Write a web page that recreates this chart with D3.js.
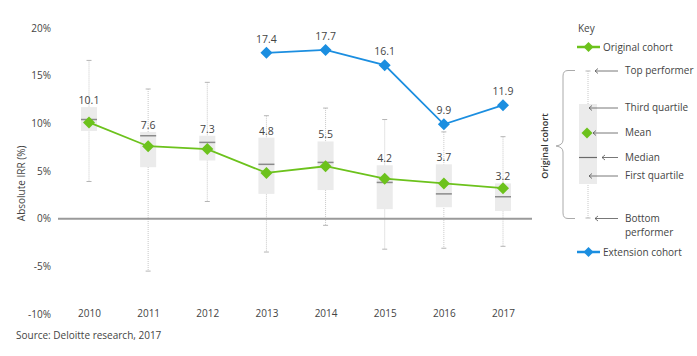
<!DOCTYPE html>
<html><head><meta charset="utf-8">
<script src="https://cdn.jsdelivr.net/npm/d3@7"></script>
<style>body{margin:0;background:#fff;}svg{display:block;font-family:"Open Sans",sans-serif;}</style>
</head><body><svg id="c" width="697" height="356"></svg>
<script>
const years = ["2010","2011","2012","2013","2014","2015","2016","2017"];
const topPerf = [16.6, 13.6, 14.3, 10.8, 11.6, 10.4, 9.1, 8.6];
const q3 = [11.7, 9.1, 8.7, 8.5, 8.1, 5.6, 5.7, 3.7];
const median = [10.4, 8.7, 8.0, 5.7, 5.9, 3.8, 2.6, 2.3];
const q1 = [9.2, 5.4, 6.1, 2.6, 3.0, 1.0, 1.2, 0.8];
const bottomPerf = [3.9, -5.5, 1.8, -3.5, -0.7, -3.2, -3.1, -2.9];
const originalMean = [10.1, 7.6, 7.3, 4.8, 5.5, 4.2, 3.7, 3.2];
const extYears = ["2013","2014","2015","2016","2017"];
const extensionMean = [17.4, 17.7, 16.1, 9.9, 11.9];
const yTicks = [20, 15, 10, 5, 0, -5, -10];

const GREEN = "#6cc21c", BLUE = "#1b8ee0", BOX = "#ebebeb", TXT = "#444";
const svg = d3.select("#c");
const x = d3.scalePoint().domain(years).range([89, 503]);
const y = d3.scaleLinear().domain([-10, 20]).range([314, 28]);

// y axis labels
const yAxis = d3.axisLeft(y).tickValues(yTicks).tickFormat(d => d + "%").tickSize(0).tickPadding(0);
const ya = svg.append("g").attr("transform", "translate(51,0)").call(yAxis);
ya.select(".domain").remove();
ya.selectAll("text").attr("font-size", 10).attr("fill", TXT).attr("font-family", "Open Sans");

// x axis labels
const xAxis = d3.axisBottom(x).tickSize(0).tickPadding(0);
const xa = svg.append("g").attr("transform", `translate(0,${y(-10) - 4})`).call(xAxis);
xa.select(".domain").remove();
xa.selectAll("text").attr("font-size", 10).attr("fill", TXT).attr("font-family", "Open Sans");

svg.append("text").attr("transform", `translate(25,${y(3.7)}) rotate(-90)`)
  .attr("text-anchor", "middle").attr("font-size", 10).attr("fill", TXT).text("Absolute IRR (%)");

// boxes
const bw = 16;
const g = svg.append("g");
years.forEach((yr, i) => {
  const cx = x(yr);
  g.append("line").attr("x1", cx).attr("x2", cx).attr("y1", y(topPerf[i])).attr("y2", y(bottomPerf[i]))
    .attr("stroke", "#c8c8c8").attr("stroke-width", 1).attr("stroke-dasharray", "1,1");
  [topPerf[i], bottomPerf[i]].forEach(v => g.append("line").attr("x1", cx - 2.5).attr("x2", cx + 2.5)
    .attr("y1", y(v)).attr("y2", y(v)).attr("stroke", "#b5b5b5").attr("stroke-width", 1));
  g.append("rect").attr("x", cx - bw / 2).attr("width", bw).attr("y", y(q3[i])).attr("height", y(q1[i]) - y(q3[i]))
    .attr("fill", BOX);
  g.append("line").attr("x1", cx - bw / 2).attr("x2", cx + bw / 2).attr("y1", y(median[i])).attr("y2", y(median[i]))
    .attr("stroke", "#8a8a8a").attr("stroke-width", 1.5);
  g.append("text").attr("x", cx).attr("y", y(q3[i]) - 3).attr("text-anchor", "middle")
    .attr("font-size", 10.5).attr("fill", TXT).text(originalMean[i].toFixed(1));
});

// zero line
svg.append("line").attr("x1", 58).attr("x2", 532).attr("y1", y(0)).attr("y2", y(0))
  .attr("stroke", "#9a9a9a").attr("stroke-width", 2);

const diamond = d3.symbol().type(d3.symbolSquare).size(72);
function series(xs, vals, color, labels) {
  const pts = xs.map((k, i) => [x(k), y(vals[i])]);
  svg.append("path").attr("d", d3.line()(pts)).attr("fill", "none").attr("stroke", color).attr("stroke-width", 1.8);
  pts.forEach((p, i) => {
    svg.append("path").attr("d", diamond).attr("transform", `translate(${p[0]},${p[1]}) rotate(45)`).attr("fill", color);
    if (labels) svg.append("text").attr("x", p[0]).attr("y", p[1] - 10).attr("text-anchor", "middle")
      .attr("font-size", 10.5).attr("fill", TXT).text(vals[i].toFixed(1));
  });
}
series(years, originalMean, GREEN, false);
series(extYears, extensionMean, BLUE, true);

// source
svg.append("text").attr("x", 16).attr("y", 339).attr("font-size", 10).attr("fill", TXT).text("Source: Deloitte research, 2017");

// key
const k = svg.append("g").attr("font-size", 10).attr("fill", TXT);
k.append("text").attr("x", 578).attr("y", 32).attr("fill", TXT).text("Key");
function legItem(yy, color, label) {
  k.append("line").attr("x1", 577).attr("x2", 600).attr("y1", yy).attr("y2", yy).attr("stroke", color).attr("stroke-width", 2.5);
  k.append("path").attr("d", d3.symbol().type(d3.symbolSquare).size(50)).attr("transform", `translate(588.5,${yy}) rotate(45)`).attr("fill", color);
  k.append("text").attr("x", 603).attr("y", yy + 3.5).attr("fill", TXT).text(label);
}
legItem(47, GREEN, "Original cohort");
legItem(252, BLUE, "Extension cohort");

const kx = 588;
k.append("line").attr("x1", kx).attr("x2", kx).attr("y1", 71).attr("y2", 218).attr("stroke", "#c8c8c8").attr("stroke-dasharray", "1,1");
[71, 218].forEach(v => k.append("line").attr("x1", kx - 2.5).attr("x2", kx + 2.5).attr("y1", v).attr("y2", v).attr("stroke", "#b5b5b5"));
k.append("rect").attr("x", 579).attr("width", 18).attr("y", 104).attr("height", 80).attr("fill", BOX);
k.append("line").attr("x1", 579).attr("x2", 597).attr("y1", 157.5).attr("y2", 157.5).attr("stroke", "#6a6a6a").attr("stroke-width", 1.2);
k.append("path").attr("d", d3.symbol().type(d3.symbolSquare).size(60)).attr("transform", "translate(587,133) rotate(45)").attr("fill", GREEN);

const arrows = [[71, 595, "Top performer"], [108, 589, "Third quartile"], [133, 593, "Mean"], [157.5, 602, "Median"], [176, 589, "First quartile"], [218.5, 595, "Bottom"]];
arrows.forEach(([yy, hx, t]) => {
  k.append("line").attr("x1", hx).attr("x2", 618).attr("y1", yy).attr("y2", yy).attr("stroke", "#555").attr("stroke-width", 0.8);
  k.append("path").attr("d", `M${hx + 3},${yy - 2.5}L${hx},${yy}L${hx + 3},${yy + 2.5}`).attr("fill", "none").attr("stroke", "#555").attr("stroke-width", 0.8);
  k.append("text").attr("x", 625).attr("y", yy + 3).attr("fill", TXT).text(t);
});
k.append("text").attr("x", 625).attr("y", 236).attr("fill", TXT).text("performer");

// brace
k.append("path").attr("d", "M575,70.5 L568,70.5 Q563,70.5 563,76 L563,140 Q563,145 556,146 Q563,147 563,152 L563,213 Q563,218.5 568,218.5 L575,218.5")
  .attr("fill", "none").attr("stroke", "#aaa").attr("stroke-width", 1);
k.append("text").attr("transform", "translate(548,146) rotate(-90)").attr("text-anchor", "middle")
  .attr("font-size", 9).attr("font-weight", 600).attr("fill", "#333").text("Original cohort");
</script></body></html>
